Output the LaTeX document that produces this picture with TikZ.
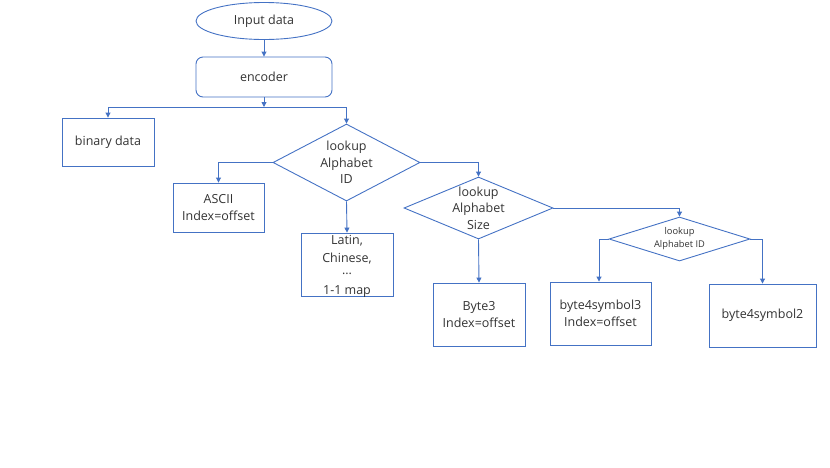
\documentclass[tikz,border=0pt]{standalone}
\usepackage{fontspec}
\setmainfont{Open Sans}
\usetikzlibrary{shapes.geometric,arrows.meta}
\definecolor{fblue}{HTML}{4472C4}
\definecolor{ftext}{HTML}{333333}
\tikzset{
  base/.style={draw=fblue,line width=0.9pt,inner sep=0pt},
  boxnode/.style={base,rectangle},
  rbox/.style={base,rectangle,rounded corners=7pt},
  ell/.style={base,ellipse},
  dia/.style={base,diamond},
  txt/.style={text=ftext,align=center,font=\fontsize{12.5}{16.5}\selectfont,inner sep=0pt},
  smalltxt/.style={text=ftext,align=center,font=\fontsize{9.3}{13}\selectfont,inner sep=0pt},
  conn/.style={draw=fblue,line width=0.9pt},
  arr/.style={conn,-{Triangle[length=5pt,width=5pt]}},
}
\begin{document}
\begin{tikzpicture}[x=1pt,y=-1pt]
\useasboundingbox (0,0) rectangle (830,467);
% nodes
\node[ell,minimum width=136,minimum height=37] (inp) at (264,21) {};
\node[txt] at (inp) {Input data};
\node[rbox,minimum width=136,minimum height=40] (enc) at (264,77) {};
\node[txt] at (enc) {encoder};
\node[boxnode,minimum width=92,minimum height=48] (bin) at (108,142) {};
\node[txt] at (bin) {binary data};
\node[dia,minimum width=147,minimum height=77] (d1) at (346.5,162.5) {};
\node[txt] at (d1) {lookup\\Alphabet\\ID};
\node[boxnode,minimum width=91,minimum height=49] (ascii) at (218.5,207.5) {};
\node[txt] at (ascii) {ASCII\\Index=offset};
\node[boxnode,minimum width=92,minimum height=63] (latin) at (347,264.5) {};
\node[txt,font=\fontsize{12.5}{18}\selectfont] (latintxt) at (347,266) {Latin,\\Chinese,\\[-6pt]...\\[2pt]1-1 map};
\node[dia,minimum width=149,minimum height=62] (d2) at (478.5,208) {};
\node[txt] at (d2) {lookup\\Alphabet\\Size};
\node[boxnode,minimum width=92,minimum height=63] (b3) at (479,314.5) {};
\node[txt] at (b3) {Byte3\\Index=offset};
\node[dia,minimum width=141,minimum height=44] (d3) at (679.5,239) {};
\node[smalltxt] at (d3) {lookup\\Alphabet ID};
\node[boxnode,minimum width=101,minimum height=63] (b43) at (600.5,313.5) {};
\node[txt] at (b43) {byte4symbol3\\Index=offset};
\node[boxnode,minimum width=107,minimum height=63] (b42) at (762.5,315.5) {};
\node[txt] at (b42) {byte4symbol2};
% junction
\coordinate (jl) at (108,107);
\coordinate (jr) at (346.5,107);
\coordinate (jm) at (264,107);
% connectors
\draw[arr] (inp) -- (enc);
\draw[arr] (enc) -- (jm);
\draw[conn] (jl) -- (jr);
\draw[arr] (jl) -- (bin);
\draw[arr] (jr) -- (d1.north);
\draw[arr] (d1.west) -| (ascii.north);
\draw[arr] (d1.south) -- (latin.north);
\draw[arr] (d1.east) -| (d2.north);
\draw[arr] (d2.south) -- (b3.north);
\draw[arr] (d2.east) -| (d3.north);
\draw[arr] (d3.west) -| ([xshift=-1.5pt]b43.north);
\draw[arr] (d3.east) -| (b42.north);
\end{tikzpicture}
\end{document}
